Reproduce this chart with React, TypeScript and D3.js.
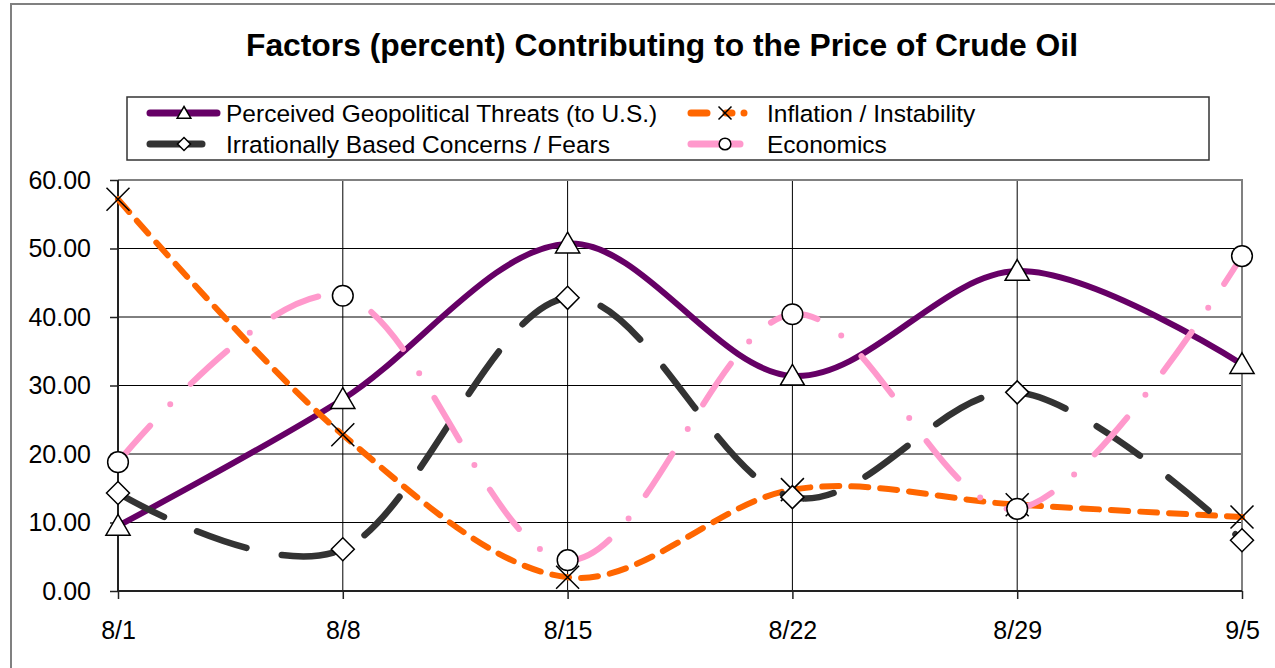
import React, { useRef } from 'react'
import * as d3 from 'd3'

const dates = ['8/1', '8/8', '8/15', '8/22', '8/29', '9/5']
const yTicks = [0, 10, 20, 30, 40, 50, 60]

const geopolitical = [9.5, 28.0, 50.7, 31.4, 46.7, 33.1]
const inflation = [57.2, 22.8, 2.0, 14.8, 12.6, 10.8]
const irrational = [14.3, 6.1, 42.8, 13.7, 29.0, 7.4]
const economics = [18.8, 43.1, 4.5, 40.4, 12.0, 48.9]

const seriesNames = [
  'Perceived Geopolitical Threats (to U.S.)',
  'Inflation / Instability',
  'Irrationally Based Concerns / Fears',
  'Economics',
]

function App() {
  const svgRef = useRef(null)

  React.useEffect(() => {
    const width = 1275
    const height = 668
    const font = '"Liberation Sans", Arial, sans-serif'

    const svg = d3.select(svgRef.current)
    svg.selectAll('*').remove()
    svg.attr('width', width).attr('height', height)

    // chart frame
    svg.append('rect')
      .attr('x', 11).attr('y', 4)
      .attr('width', 1300).attr('height', 700)
      .attr('fill', '#fff')
      .attr('stroke', '#808080').attr('stroke-width', 2)

    svg.append('text')
      .attr('x', 662).attr('y', 56)
      .attr('text-anchor', 'middle')
      .attr('textLength', 832).attr('lengthAdjust', 'spacingAndGlyphs')
      .style('font-family', font).style('font-weight', 'bold').style('font-size', '31px')
      .text('Factors (percent) Contributing to the Price of Crude Oil')

    const xScale = d3.scalePoint().domain(dates).range([118, 1242])
    const yScale = d3.scaleLinear().domain([0, 60]).range([591, 180])

    const series = [
      { name: seriesNames[0], values: geopolitical, color: '#660066', dash: null, marker: 'triangle', w: 6 },
      { name: seriesNames[1], values: inflation, color: '#FF6600', dash: '17 12', marker: 'x', w: 6 },
      { name: seriesNames[2], values: irrational, color: '#333333', dash: '52 36', marker: 'diamond', w: 6.5 },
      { name: seriesNames[3], values: economics, color: '#FF99CC', dash: '49 29 0 29', marker: 'circle', w: 6 },
    ]

    // gridlines
    const grid = svg.append('g')
    grid.selectAll('line.h')
      .data(yTicks.slice(1, -1))
      .join('line')
      .attr('x1', 118).attr('x2', 1242)
      .attr('y1', (d) => yScale(d)).attr('y2', (d) => yScale(d))
      .attr('stroke', '#000').attr('stroke-width', 1)
    grid.selectAll('line.v')
      .data(dates.slice(1, -1))
      .join('line')
      .attr('x1', (d) => xScale(d)).attr('x2', (d) => xScale(d))
      .attr('y1', 180).attr('y2', 591)
      .attr('stroke', '#000').attr('stroke-width', 1)

    // plot border (top/right)
    svg.append('path')
      .attr('d', `M118,180H1242V591`)
      .attr('fill', 'none').attr('stroke', '#808080').attr('stroke-width', 2)

    // axes
    const yAxis = svg.append('g')
      .attr('transform', 'translate(118,0)')
      .call(d3.axisLeft(yScale).tickValues(yTicks).tickSize(8).tickPadding(19).tickFormat(d3.format('.2f')))
    const xAxis = svg.append('g')
      .attr('transform', 'translate(0,591)')
      .call(d3.axisBottom(xScale).tickSize(8).tickPadding(22))
    ;[yAxis, xAxis].forEach((ax) => {
      ax.select('.domain').attr('stroke', '#222').attr('stroke-width', 2)
      ax.selectAll('.tick line').attr('stroke', '#222').attr('stroke-width', 1.5)
      ax.selectAll('text').style('font-family', font).style('font-size', '25px').attr('fill', '#000')
    })
    xAxis.select('.domain').attr('d', 'M118,0H1242')
    yAxis.select('.domain').attr('d', 'M0,180V591')

    const drawMarker = (g, type, x, y, s) => {
      const m = g.append('path')
        .attr('fill', '#fff').attr('stroke', '#000').attr('stroke-width', 1.5)
      if (type === 'triangle') {
        m.attr('d', `M${x},${y - s}L${x + s * 1.05},${y + s * 0.8}L${x - s * 1.05},${y + s * 0.8}Z`)
      } else if (type === 'diamond') {
        m.attr('d', `M${x},${y - s}L${x + s},${y}L${x},${y + s}L${x - s},${y}Z`)
      } else if (type === 'circle') {
        m.attr('d', d3.arc()({ innerRadius: 0, outerRadius: s * 0.9, startAngle: 0, endAngle: 2 * Math.PI }))
          .attr('transform', `translate(${x},${y})`)
      } else {
        m.attr('fill', 'none')
          .attr('d', `M${x - s},${y - s}L${x + s},${y + s}M${x + s},${y - s}L${x - s},${y + s}`)
      }
    }

    const linegenerator = d3.line()
      .x((d, i) => xScale(dates[i]))
      .y((d) => yScale(d))
      .curve(d3.curveCardinal.tension(0))

    series.forEach((s) => {
      const g = svg.append('g')
      g.append('path')
        .datum(s.values)
        .attr('d', linegenerator)
        .attr('fill', 'none')
        .attr('stroke', s.color)
        .attr('stroke-width', s.w)
        .attr('stroke-linecap', 'round')
        .attr('stroke-dasharray', s.dash)
      s.values.forEach((v, i) => drawMarker(g, s.marker, xScale(dates[i]), yScale(v), 11.5))
    })

    // legend
    const legend = svg.append('g')
    legend.append('rect')
      .attr('x', 127).attr('y', 97).attr('width', 1082).attr('height', 63)
      .attr('fill', '#fff').attr('stroke', '#333').attr('stroke-width', 1.5)
    const legendPos = [
      { x: 147, y: 113 },
      { x: 688, y: 113 },
      { x: 147, y: 144 },
      { x: 688, y: 144 },
    ]
    series.forEach((s, i) => {
      const p = legendPos[i]
      legend.append('path')
        .attr('d', `M${p.x + 3},${p.y}H${p.x + 70}`)
        .attr('stroke', s.color).attr('stroke-width', 7)
        .attr('stroke-linecap', 'round')
        .attr('stroke-dasharray', s.dash ? (s.marker === 'x' ? '16 19 6 12 0 20' : s.dash) : null)
      drawMarker(legend, s.marker, p.x + 37, p.y, 6.5)
      legend.append('text')
        .attr('x', p.x + 79).attr('y', p.y)
        .attr('dy', '0.36em')
        .style('font-family', font).style('font-size', '24.5px')
        .text(s.name)
    })
  }, [])

  return (
    <svg ref={svgRef} style={{ position: 'absolute', left: 0, top: 0 }}></svg>
  )
}

export default App
